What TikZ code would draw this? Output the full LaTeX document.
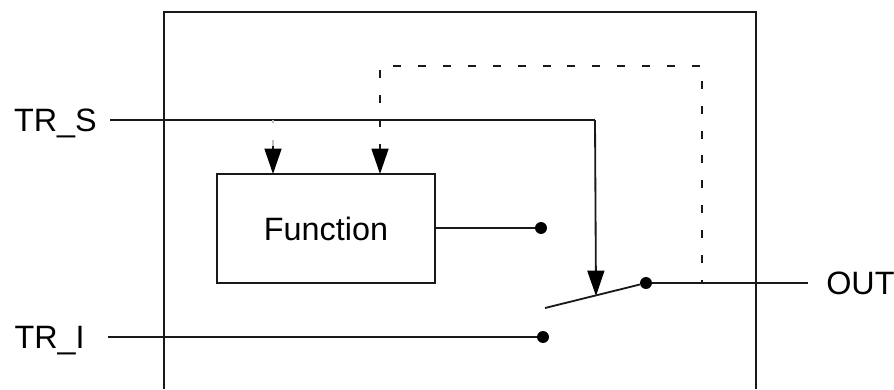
\documentclass[tikz,border=0pt]{standalone}
\usepackage{fontspec}
\setmainfont{Liberation Sans}
\usetikzlibrary{arrows.meta,calc}

\tikzset{
    wire/.style={line width=1.3pt, black!90},
    ctrl/.style={line width=1.3pt, black!90, dash pattern=on 5.7pt off 12pt, dash phase=3.5pt},
    tip/.style={-{Triangle[length=18pt, width=12pt, fill=black, color=black]}},
    contact/.style={circle, fill=black, inner sep=0pt, minimum size=8.5pt},
    sig/.style={font=\fontsize{23}{28}\selectfont, text height=17pt, text depth=0pt, inner ysep=0pt, inner xsep=0pt},
    funcbox/.style={draw, line width=1.3pt, black!90, text=black, minimum width=5.45cm, minimum height=2.725cm, inner sep=0pt}
}

\begin{document}
\begin{tikzpicture}[x=0.025cm, y=-0.025cm]
    \useasboundingbox (0,0) rectangle (894,389);

    % Enclosure, open at the bottom
    \draw[wire] (164,389) -- (164,12) -- (756,12) -- (756,389);

    % Block and contacts
    \node[funcbox, sig] (function) at (326,228.5) {Function};
    \node[contact] (upper) at (541,228) {};
    \node[contact] (lower) at (543,337) {};
    \node[contact] (common) at (646,283) {};
    \coordinate (armend) at (545,308);
    \coordinate (armmid) at (596,296);

    % Signal labels
    \node[sig, anchor=east] (trs) at (97,120) {TR\_S};
    \node[sig, anchor=east] (tri) at (85,337) {TR\_I};
    \node[sig, anchor=west] (out) at (826,283) {OUT};

    % Free ends of the wires
    \coordinate (trsend) at (110,120);
    \coordinate (triend) at (108,337);
    \coordinate (outend) at (808,283);
    \coordinate (trscorner) at (595,120);
    \coordinate (funca) at (273,174);
    \coordinate (funcb) at (380,174);
    \coordinate (tapa) at (273,120);
    \coordinate (fbtopl) at (380,66);
    \coordinate (fbtopr) at (702,66);
    \coordinate (fbtap) at (702,283);

    % Wires
    \draw[wire] (trsend) -- (trscorner);
    \draw[wire, tip] (trscorner) -- (armmid);
    \draw[wire] (function.east |- upper) -- (upper);
    \draw[wire] (triend) -- (lower);
    \draw[wire] (common) -- (outend);
    \draw[wire] (armend) -- (common);

    % Control lines into the block
    \draw[ctrl, black!25, line width=0.8pt] (tapa) -- ($(funca)+(0,-26)$);
    \draw[wire, tip] ($(funca)+(0,-28)$) -- (funca);
    \draw[ctrl] (fbtap) -- (fbtopr) -- (fbtopl) -- ($(funcb)+(0,-26)$);
    \draw[wire, tip] ($(funcb)+(0,-28)$) -- (funcb);
\end{tikzpicture}
\end{document}
